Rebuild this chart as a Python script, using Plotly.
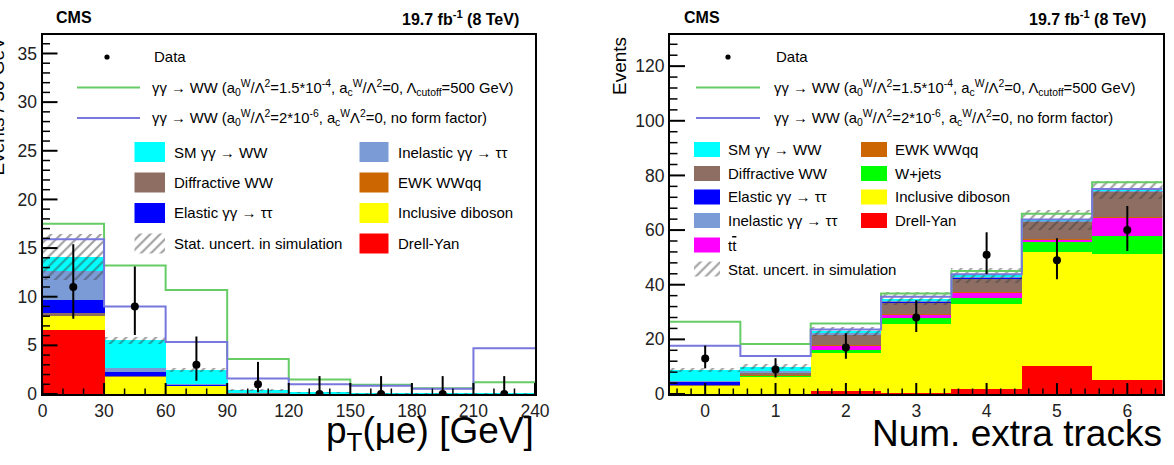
import numpy as np
import plotly.graph_objects as go

W, H = 1174, 465
FONT = "Liberation Sans"

# ---------------- Left panel: pT(mu e) ----------------
pt_edges = [0, 30, 60, 90, 120, 150, 180, 210, 240]
pt_dy   = [6.6, 0, 0, 0, 0, 0, 0, 0]
pt_dib  = [1.45, 1.78, 0.85, 0.1, 0.05, 0.03, 0.02, 0.02]
pt_ewk  = [0.03, 0.02, 0.01, 0, 0, 0, 0, 0]
pt_diff = [0.2, 0.05, 0.05, 0.02, 0.01, 0, 0, 0]
pt_el   = [1.42, 0.42, 0.02, 0, 0, 0, 0, 0]
pt_inel = [2.9, 0.45, 0.05, 0.02, 0, 0, 0, 0]
pt_sm   = [1.45, 2.78, 1.52, 0.3, 0.08, 0.04, 0.02, 0.02]
pt_stat = [2.35, 0.33, 0.2, 0.1, 0.04, 0.03, 0.02, 0.02]
pt_aqgc1 = [17.5, 13.2, 10.7, 3.6, 1.5, 0.95, 0.6, 1.2]
pt_aqgc2 = [15.9, 9.0, 5.35, 1.6, 1.0, 0.85, 0.55, 4.7]
pt_data = [11, 9, 3, 1, 0, 0, 0, 0]
pt_data_up = [4.40, 4.11, 2.92, 2.30, 1.84, 1.84, 1.84, 1.84]
pt_data_dn = [3.26, 2.94, 1.63, 0.83, 0, 0, 0, 0]

# ---------------- Right panel: extra tracks ----------------
nt_edges = [-0.5, 0.5, 1.5, 2.5, 3.5, 4.5, 5.5, 6.5]
nt_dy   = [0, 0, 1.2, 0.3, 2.0, 10.2, 5.1]
nt_dib  = [3.0, 6.3, 13.7, 25.5, 30.9, 41.6, 46.3]
nt_wj   = [0.1, 0.3, 1.2, 2.1, 2.3, 3.9, 6.6]
nt_tt   = [0.1, 0.2, 1.8, 1.2, 2.0, 0.9, 6.5]
nt_ewk  = [0, 0.05, 0.1, 0.2, 0.2, 0.3, 0.3]
nt_diff = [0.1, 1.0, 3.6, 4.3, 4.9, 6.1, 9.2]
nt_el   = [1.2, 0.2, 0.3, 0.3, 0.3, 0.2, 0.1]
nt_inel = [0.2, 0.4, 0.3, 0.3, 0.3, 0.2, 0.2]
nt_sm   = [4.2, 1.5, 0.8, 0.6, 0.5, 0.3, 0.3]
nt_stat = [0.8, 0.9, 1.6, 2.4, 2.6, 3.5, 3.4]
nt_aqgc1 = [26.4, 18.3, 25.8, 36.8, 45.0, 66.0, 77.5]
nt_aqgc2 = [17.7, 13.9, 23.6, 35.6, 43.8, 63.9, 75.0]
nt_data = [13, 9, 17, 28, 51, 49, 60]
nt_data_up = [4.7, 4.11, 5.2, 6.3, 8.2, 8.0, 8.8]
nt_data_dn = [3.6, 2.94, 4.1, 5.3, 7.1, 7.0, 7.7]

C = {
    "sm": "#00ffff", "diff": "#8e6e62", "el": "#0000ff", "inel": "#7b9bd6",
    "ewk": "#cc6600", "dib": "#ffff00", "dy": "#ff0000", "wj": "#00ff00",
    "tt": "#ff00ff", "g": "#66cc66", "b": "#7777dd",
}
HATCH = dict(shape="/", fgcolor="#404040", size=7, solidity=0.3)

# pixel geometry of the two frames
FR_TOP, FR_BOT = 35, 394
L_X0, L_X1 = 42.5, 535
R_X0, R_X1 = 670, 1162.5
L_RANGE_X, L_RANGE_Y = [0, 240], [0, 36.9]
R_RANGE_X, R_RANGE_Y = [-0.5, 6.5], [0, 131.4]

fig = go.Figure()


def add_panel(edges, comps, stat, l1, l2, data, up, dn, xa, ya):
    e = np.array(edges, float)
    centers = 0.5 * (e[:-1] + e[1:])
    widths = e[1:] - e[:-1]
    base = np.zeros(len(centers))
    for vals, col in comps:
        v = np.array(vals, float)
        fig.add_trace(go.Bar(x=centers, y=v, base=base.copy(), width=widths,
                             marker=dict(color=col, line=dict(width=0)),
                             xaxis=xa, yaxis=ya, showlegend=False))
        base = base + v
    s = np.array(stat, float)
    fig.add_trace(go.Bar(x=centers, y=2 * s, base=base - s, width=widths,
                         marker=dict(color="rgba(0,0,0,0)", line=dict(width=0),
                                     pattern=dict(bgcolor="rgba(0,0,0,0)",
                                                  fillmode="overlay", **HATCH)),
                         xaxis=xa, yaxis=ya, showlegend=False))
    for vals, col in ((l1, C["g"]), (l2, C["b"])):
        fig.add_trace(go.Scatter(x=list(e), y=list(vals) + [vals[-1]],
                                 mode="lines", line=dict(color=col, width=2, shape="hv"),
                                 xaxis=xa, yaxis=ya, showlegend=False))
    fig.add_trace(go.Scatter(x=centers, y=data, mode="markers",
                             marker=dict(color="black", size=8),
                             error_y=dict(type="data", symmetric=False, array=up,
                                          arrayminus=dn, thickness=2, width=0,
                                          color="black"),
                             xaxis=xa, yaxis=ya, showlegend=False))


add_panel(pt_edges,
          [(pt_dy, C["dy"]), (pt_dib, C["dib"]), (pt_ewk, C["ewk"]),
           (pt_diff, C["diff"]), (pt_el, C["el"]), (pt_inel, C["inel"]),
           (pt_sm, C["sm"])],
          pt_stat, pt_aqgc1, pt_aqgc2, pt_data, pt_data_up, pt_data_dn, "x", "y")
add_panel(nt_edges,
          [(nt_dy, C["dy"]), (nt_dib, C["dib"]), (nt_wj, C["wj"]), (nt_tt, C["tt"]),
           (nt_ewk, C["ewk"]), (nt_diff, C["diff"]), (nt_el, C["el"]),
           (nt_inel, C["inel"]), (nt_sm, C["sm"])],
          nt_stat, nt_aqgc1, nt_aqgc2, nt_data, nt_data_up, nt_data_dn, "x2", "y2")

tickfont = dict(family=FONT, size=17.5, color="#222")


def xa(domain, rng, dtick, anchor):
    return dict(domain=domain, range=rng, dtick=dtick, ticks="", anchor=anchor,
                showline=True, linecolor="black", linewidth=2, mirror=True,
                showgrid=False, zeroline=False, tickfont=tickfont)


ydom = [1 - FR_BOT / H, 1 - FR_TOP / H]
fig.update_layout(
    width=W, height=H, margin=dict(l=0, r=0, t=0, b=0, pad=0, autoexpand=False),
    autosize=False, paper_bgcolor="white", plot_bgcolor="white",
    barmode="overlay", bargap=0, showlegend=False, font=dict(family=FONT),
    xaxis=xa([L_X0 / W, L_X1 / W], L_RANGE_X, 30, "y"),
    yaxis=xa(ydom, L_RANGE_Y, 5, "x"),
    xaxis2=xa([R_X0 / W, R_X1 / W], R_RANGE_X, 1, "y2"),
    yaxis2=xa(ydom, R_RANGE_Y, 20, "x2"),
)

shapes = []
ann = []


def PX(x):
    return x / W


def PY(y):
    return 1 - y / H


# ---- tick marks (ROOT style: inside, major + minor), placed with the axis mapping
def axis_ticks(fx0, fx1, rx, ry, xmaj, xmin, ymaj, ymin):
    def mapx(v):
        return fx0 + (v - rx[0]) / (rx[1] - rx[0]) * (fx1 - fx0)

    def mapy(v):
        return FR_BOT - (v - ry[0]) / (ry[1] - ry[0]) * (FR_BOT - FR_TOP)

    for v in np.arange(np.ceil(rx[0] / xmin - 1e-9) * xmin, rx[1] + 1e-9, xmin):
        major = abs(v / xmaj - round(v / xmaj)) < 1e-6
        p = mapx(v)
        ln = 11 if major else 5.5
        shapes.append(dict(type="line", xref="paper", yref="paper",
                           x0=PX(p), x1=PX(p), y0=PY(FR_BOT), y1=PY(FR_BOT - ln),
                           line=dict(color="black", width=2 if major else 1.5),
                           layer="above"))
    for v in np.arange(np.ceil(ry[0] / ymin - 1e-9) * ymin, ry[1] + 1e-9, ymin):
        major = abs(v / ymaj - round(v / ymaj)) < 1e-6
        p = mapy(v)
        ln = 15 if major else 7.5
        shapes.append(dict(type="line", xref="paper", yref="paper",
                           x0=PX(fx0), x1=PX(fx0 + ln), y0=PY(p), y1=PY(p),
                           line=dict(color="black", width=2 if major else 1.5),
                           layer="above"))


axis_ticks(L_X0, L_X1, L_RANGE_X, L_RANGE_Y, 30, 10, 5, 1)
axis_ticks(R_X0, R_X1, R_RANGE_X, R_RANGE_Y, 1, 0.2, 20, 4)


def text(x, y, s, size=15, xanchor="left", bold=False):
    ann.append(dict(x=PX(x), y=PY(y), xref="paper", yref="paper",
                    text=("<b>%s</b>" % s) if bold else s,
                    showarrow=False, xanchor=xanchor, yanchor="middle",
                    font=dict(family=FONT, size=size, color="black")))


def box(x0, x1, yc, h, col):
    shapes.append(dict(type="rect", xref="paper", yref="paper", x0=PX(x0), x1=PX(x1),
                       y0=PY(yc + h / 2), y1=PY(yc - h / 2), fillcolor=col,
                       line=dict(width=0), layer="above"))


def hline(x0, x1, y, col):
    shapes.append(dict(type="line", xref="paper", yref="paper", x0=PX(x0), x1=PX(x1),
                       y0=PY(y), y1=PY(y), line=dict(color=col, width=2), layer="above"))


def datamark(x, y, r=2.6):
    shapes.append(dict(type="circle", xref="paper", yref="paper",
                       x0=PX(x - r), x1=PX(x + r), y0=PY(y + r), y1=PY(y - r),
                       fillcolor="black", line=dict(width=0), layer="above"))


def hatchbox(x0, x1, yc, h, panel):
    # legend swatch drawn inside the panel's own axes (pixel -> axis units)
    if panel == "L":
        fx0, fx1, rx, ry, xa_, ya_ = L_X0, L_X1, L_RANGE_X, L_RANGE_Y, "x", "y"
    else:
        fx0, fx1, rx, ry, xa_, ya_ = R_X0, R_X1, R_RANGE_X, R_RANGE_Y, "x2", "y2"

    def dx(p):
        return rx[0] + (p - fx0) / (fx1 - fx0) * (rx[1] - rx[0])

    def dy(p):
        return ry[0] + (FR_BOT - p) / (FR_BOT - FR_TOP) * (ry[1] - ry[0])

    xs = [dx(x0), dx(x1), dx(x1), dx(x0), dx(x0)]
    ys = [dy(yc + h / 2), dy(yc + h / 2), dy(yc - h / 2), dy(yc - h / 2), dy(yc + h / 2)]
    fig.add_trace(go.Scatter(x=xs, y=ys, mode="lines", fill="toself",
                             line=dict(width=0), fillcolor="rgba(0,0,0,0)",
                             fillpattern=dict(bgcolor="white", **HATCH),
                             xaxis=xa_, yaxis=ya_, showlegend=False, hoverinfo="skip"))


GG = "γγ → WW"
TT = "γγ → ττ"
L1 = ("γγ → WW (a<sub>0</sub><sup>W</sup>/Λ<sup>2</sup>=1.5*10<sup>-4</sup>, "
      "a<sub>c</sub><sup>W</sup>/Λ<sup>2</sup>=0, Λ<sub>cutoff</sub>=500 GeV)")
L2a = ("γγ → WW (a<sub>0</sub><sup>W</sup>/Λ<sup>2</sup>=2*10<sup>-6</sup>, "
       "a<sub>c</sub><sup>W</sup>Λ<sup>2</sup>=0, no form factor)")
L2b = ("γγ → WW (a<sub>0</sub><sup>W</sup>/Λ<sup>2</sup>=2*10<sup>-6</sup>, "
       "a<sub>c</sub><sup>W</sup>/Λ<sup>2</sup>=0, no form factor)")

# ---- left legend
datamark(107, 57)
text(152, 57, "Data")
hline(77, 140, 87.5, C["g"])
text(150, 87.5, L1, size=14.8)
hline(77, 140, 118, C["b"])
text(150, 118, L2a, size=14.8)
for yc, lab, col in ((152, "SM " + GG, C["sm"]), (182.5, "Diffractive WW", C["diff"]),
                     (213, "Elastic " + TT, C["el"])):
    box(134.5, 165, yc, 20, col)
    text(172, yc, lab)
hatchbox(134.5, 165, 243.5, 20, "L")
text(172, 243.5, "Stat. uncert. in simulation")
for yc, lab, col in ((152, "Inelastic " + TT, C["inel"]), (182.5, "EWK WWqq", C["ewk"]),
                     (213, "Inclusive diboson", C["dib"]), (243.5, "Drell-Yan", C["dy"])):
    box(359.5, 388.5, yc, 20, col)
    text(395.5, yc, lab)

# ---- right legend
datamark(728, 57)
text(774, 57, "Data")
hline(696, 760, 87.5, C["g"])
text(772, 87.5, L1, size=14.8)
hline(696, 760, 118, C["b"])
text(772, 118, L2b, size=14.8)
for yc, lab, col in ((149.5, "SM " + GG, C["sm"]), (173.5, "Diffractive WW", C["diff"]),
                     (197, "Elastic " + TT, C["el"]), (220.5, "Inelastic " + TT, C["inel"]),
                     (245, "t<span style='text-decoration:overline'>t</span>", C["tt"])):
    box(694, 720, yc, 15, col)
    text(726, yc, lab)
hatchbox(694, 720, 269, 15, "R")
text(726, 269, "Stat. uncert. in simulation")
for yc, lab, col in ((149.5, "EWK WWqq", C["ewk"]), (173.5, "W+jets", C["wj"]),
                     (197, "Inclusive diboson", C["dib"]), (220.5, "Drell-Yan", C["dy"])):
    box(861, 887, yc, 15, col)
    text(893, yc, lab)

# ---- headers and titles
text(54, 18, "CMS", size=16, bold=True)
text(521, 18, "19.7 fb<sup>-1</sup> (8 TeV)", size=16, bold=True, xanchor="right")
text(682, 18, "CMS", size=16, bold=True)
text(1148, 18, "19.7 fb<sup>-1</sup> (8 TeV)", size=16, bold=True, xanchor="right")
text(536, 433, "p<sub>T</sub>(μe) [GeV]", size=37, xanchor="right")
text(1164, 433, "Num. extra tracks", size=37, xanchor="right")
for xc, lab in ((-3, "Events / 30 GeV"), (619, "Events")):
    ann.append(dict(x=PX(xc), y=PY(35), xref="paper", yref="paper", text=lab,
                    showarrow=False, textangle=-90, xanchor="center", yanchor="top",
                    font=dict(family=FONT, size=19, color="black")))

fig.update_layout(shapes=shapes, annotations=ann)
fig.write_html("out.html")
